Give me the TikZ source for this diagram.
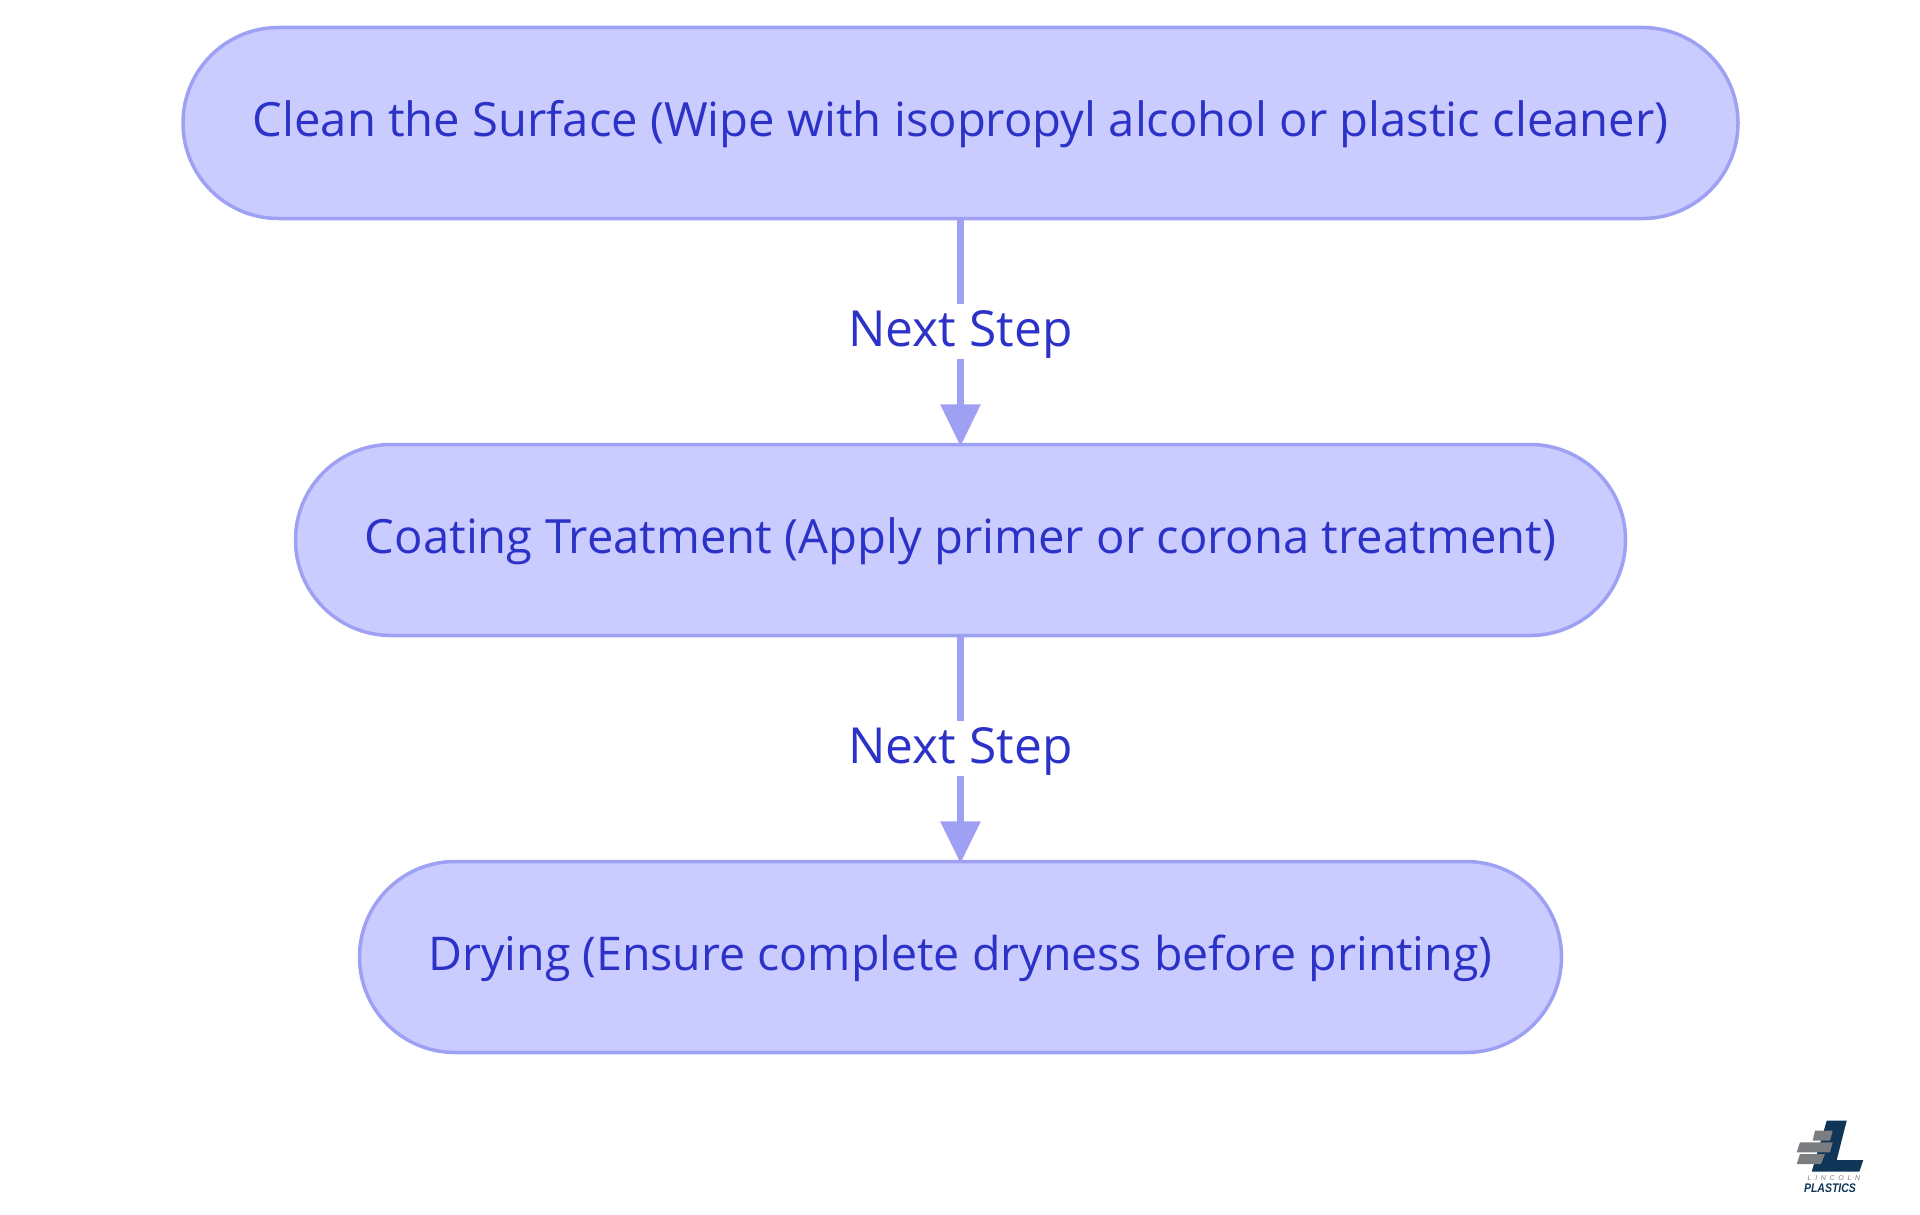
\documentclass[tikz,border=0pt]{standalone}
\usepackage{fontspec}
\usetikzlibrary{arrows.meta}
\setmainfont{Open Sans}
\newfontfamily\logofont{Liberation Sans}
\newfontfamily\logonarrow[FakeStretch=0.84]{Liberation Sans}
\definecolor{stepfill}{HTML}{CACBFF}
\definecolor{stepline}{HTML}{9EA1F3}
\definecolor{steptext}{HTML}{2C32C8}
\definecolor{logonavy}{HTML}{0F3557}
\definecolor{logogray}{HTML}{7C7D80}
\tikzset{
	stepbox/.style={draw=stepline, fill=stepfill, text=steptext, line width=3.5pt, rounded corners=95.5pt, minimum height=191pt, inner sep=0pt, text height=40pt, text depth=12.6pt, font=\fontsize{47.2}{56}\selectfont},
	flow/.style={draw=stepline, line width=6.5pt, shorten >=-3.5pt, -{Triangle[width=39pt,length=42pt]}},
	flowlabel/.style={fill=white, text=steptext, inner sep=0pt, minimum width=218pt, text height=42pt, text depth=13pt, font=\fontsize{49.7}{56}\selectfont},
	brick/.style={fill=logogray, draw=none},
}
\begin{document}
\begin{tikzpicture}[x=1pt, y=-1pt]
	\useasboundingbox (0,0) rectangle (1920,1215);
	\node[stepbox, minimum width=1555pt] (clean) at (960.5,123) {Clean the Surface (Wipe with isopropyl alcohol or plastic cleaner)};
	\node[stepbox, minimum width=1330pt] (coating) at (960.5,540) {Coating Treatment (Apply primer or corona treatment)};
	\node[stepbox, minimum width=1202pt, font=\fontsize{46.5}{56}\selectfont] (drying) at (960.5,957) {Drying (Ensure complete dryness before printing)};
	\draw[flow] (clean) -- node[flowlabel] (nextA) {Next Step} (coating);
	\draw[flow] (coating) -- node[flowlabel] (nextB) {Next Step} (drying);
	% logo
	\fill[logonavy] (1826.7,1120.7) -- (1846.7,1120.7) -- (1836.7,1160) -- (1863.3,1160) -- (1859.3,1171.7) -- (1811.7,1171.7) -- cycle;
	\fill[brick] (1815,1130.7) -- (1832.7,1130.7) -- (1830,1140.7) -- (1812.7,1140.7) -- cycle;
	\fill[brick] (1800,1142.3) -- (1832.7,1142.3) -- (1830,1152.3) -- (1796.7,1152.3) -- cycle;
	\fill[brick] (1800,1154) -- (1825,1154) -- (1821,1164) -- (1796.7,1164) -- cycle;
	\node[inner sep=0pt, text=logogray, font=\logofont\itshape\fontsize{7}{8}\selectfont] (lincoln) at (1834,1178) {L\hspace{3.7pt}I\hspace{3.7pt}N\hspace{3.7pt}C\hspace{3.7pt}O\hspace{3.7pt}L\hspace{3.7pt}N};
	\node[inner sep=0pt, text=logonavy, font=\logonarrow\bfseries\itshape\fontsize{12.5}{13}\selectfont] (plastics) at (1830,1188) {PLASTICS};
\end{tikzpicture}
\end{document}
